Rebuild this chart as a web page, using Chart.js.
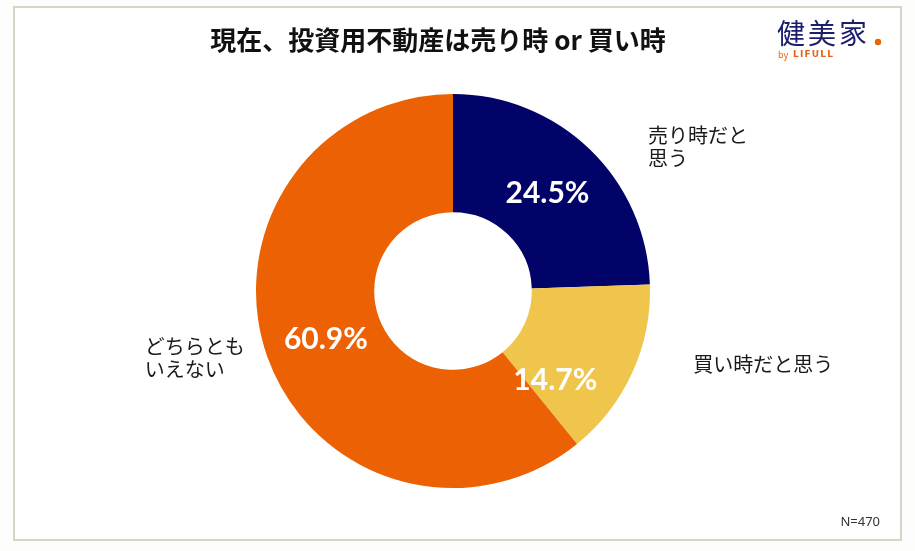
<!DOCTYPE html>
<html lang="ja">
<head>
<meta charset="utf-8">
<script src="https://cdn.jsdelivr.net/npm/chart.js@4"></script>
<style>
  html, body { margin: 0; padding: 0; background: #fdfdfb; }
  #wrap { width: 915px; height: 551px; }
</style>
</head>
<body>
<div id="wrap"><canvas id="pie" width="915" height="551"></canvas></div>
<script>
// データ
const chartTitle = '現在、投資用不動産は売り時 or 買い時';
const categories = ['売り時だと思う', '買い時だと思う', 'どちらともいえない'];
const outsideLabels = [['売り時だと', '思う'], ['買い時だと思う'], ['どちらとも', 'いえない']];
const shares = [24.5, 14.7, 60.9];
const sliceColors = ['#020369', '#f0c54b', '#eb6104'];
const sampleNote = 'N=470';

const JP = '"Noto Sans CJK JP", "Noto Sans", sans-serif';

// 枠・タイトル・ロゴ・ラベルを描くプラグイン
const decor = {
    id: 'decor',
    beforeDraw(chart) {
        const c = chart.ctx;
        c.save();
        c.fillStyle = '#ffffff';
        c.fillRect(14, 7, 887, 533);
        c.strokeStyle = '#d8d4c3';
        c.lineWidth = 2;
        c.strokeRect(14, 7, 887, 533);
        c.restore();
    },
    afterDraw(chart) {
        const c = chart.ctx;
        const meta = chart.getDatasetMeta(0);
        const arc0 = meta.data[0];
        const cx = arc0.x, cy = arc0.y;
        c.save();

        // タイトル
        c.fillStyle = '#111';
        c.font = 'bold 26px ' + JP;
        c.textAlign = 'center';
        c.textBaseline = 'middle';
        c.fillText(chartTitle, cx - 15, 40);

        // ロゴ
        c.textAlign = 'left';
        c.fillStyle = '#1d1d6e';
        c.font = '28px ' + JP;
        c.letterSpacing = '3px';
        c.fillText('健美家', 777, 33);
        c.letterSpacing = '0px';
        c.fillStyle = '#eb6104';
        c.beginPath();
        c.arc(878, 42, 3.2, 0, Math.PI * 2);
        c.fill();
        c.fillStyle = '#e2651c';
        c.font = '9px ' + JP;
        c.fillText('by', 778, 55);
        c.font = 'bold 9px "DejaVu Sans", sans-serif';
        c.letterSpacing = '1.2px';
        c.fillText('LIFULL', 793, 55);
        c.letterSpacing = '0px';

        // N
        c.fillStyle = '#333';
        c.font = '13px "Noto Sans", sans-serif';
        c.textAlign = 'right';
        c.fillText(sampleNote, 880, 522);

        // パーセント（セグメント内）
        const angleShift = [0, 0.29, -0.02];
        meta.data.forEach((arc, i) => {
            const mid = (arc.startAngle + arc.endAngle) / 2 + angleShift[i];
            const r = (arc.innerRadius + arc.outerRadius) / 2 - 2;
            c.fillStyle = '#ffffff';
            c.font = 'bold 30px Lato, sans-serif';
            c.textAlign = 'center';
            c.textBaseline = 'middle';
            c.fillText(shares[i].toFixed(1) + '%', cx + Math.cos(mid) * r, cy + Math.sin(mid) * r);
        });

        // 外側のカテゴリラベル
        const R = arc0.outerRadius;
        const spots = [
            { x: cx + R * 0.99, y: cy - R * 0.73 },
            { x: cx + R * 1.22, y: cy + R * 0.375 },
            { x: cx - R * 1.565, y: cy + R * 0.34 }
        ];
        c.fillStyle = '#1a1a1a';
        c.font = '20px ' + JP;
        c.textBaseline = 'middle';
        c.textAlign = 'left';
        outsideLabels.forEach((lines, i) => {
            const s = spots[i];
            lines.forEach((t, k) => {
                c.fillText(t, s.x, s.y + (k - (lines.length - 1) / 2) * 23);
            });
        });
        c.restore();
    }
};

new Chart(document.getElementById('pie'), {
    type: 'doughnut',
    data: {
        labels: categories,
        datasets: [{
            data: shares,
            backgroundColor: sliceColors,
            borderWidth: 0
        }]
    },
    options: {
        responsive: false,
        animation: false,
        cutout: '40%',
        layout: { padding: { top: 94, bottom: 63, left: 0, right: 9 } },
        plugins: {
            legend: { display: false },
            tooltip: { enabled: false }
        }
    },
    plugins: [decor]
});
</script>
</body>
</html>
